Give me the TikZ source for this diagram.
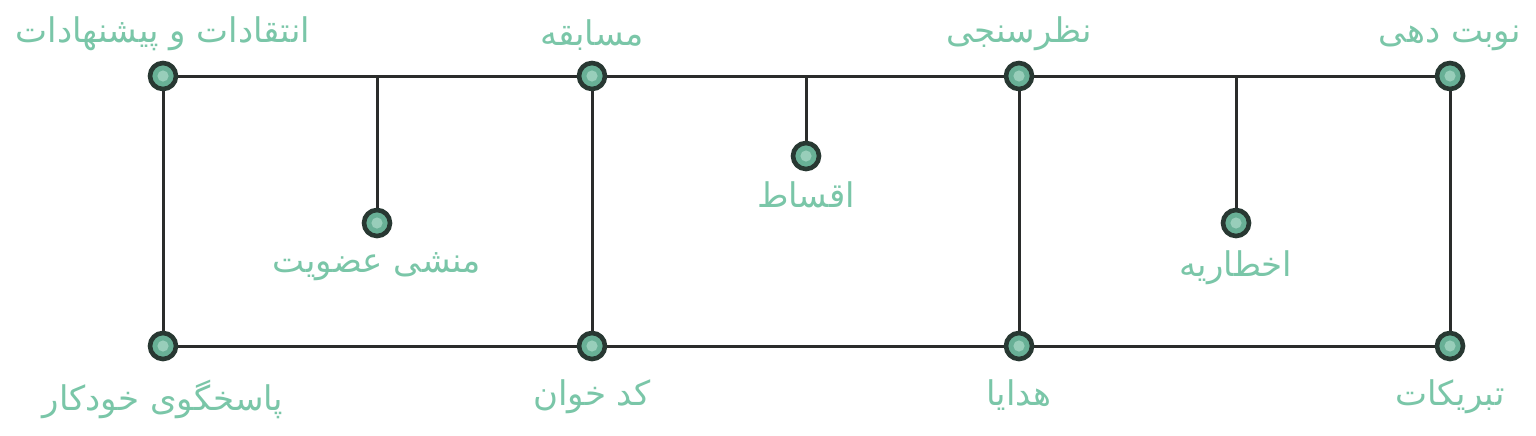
\documentclass[tikz,border=0pt]{standalone}
\usepackage{fontspec}
\usepackage{tikz}
\usetikzlibrary{positioning}
\TeXXeTstate=1
\newfontfamily\arabicfont[Script=Arabic]{DejaVu Sans}
\definecolor{linedark}{RGB}{42,44,43}
\definecolor{ringdark}{RGB}{40,56,50}
\definecolor{dotgreen}{RGB}{104,176,150}
\definecolor{dotlight}{RGB}{152,206,186}
\definecolor{labelgreen}{RGB}{122,198,168}
\tikzset{
    wire/.style={linedark,line width=1.5pt},
    dot/.style={circle,draw=ringdark,line width=2.3pt,fill=dotgreen,minimum size=13pt,inner sep=0pt,
        path picture={\fill[dotlight] (path picture bounding box.center) circle (2.8pt);}},
    lbl/.style={labelgreen,font=\arabicfont\fontsize{17}{19}\selectfont,inner sep=0pt},
}

\begin{document}
\begin{tikzpicture}[x=0.5pt,y=-0.5pt]
    \useasboundingbox (0,0) rectangle (1536,435);
    % main grid
    \node[dot] (t1) at (163,76) {};
    \node[dot] (t2) at (592,76) {};
    \node[dot] (t3) at (1019,76) {};
    \node[dot] (t4) at (1450,76) {};
    \node[dot] (b1) at (163,346) {};
    \node[dot] (b2) at (592,346) {};
    \node[dot] (b3) at (1019,346) {};
    \node[dot] (b4) at (1450,346) {};
    % side branches
    \coordinate (s1) at (377,76);
    \coordinate (s2) at (806,76);
    \coordinate (s3) at (1236,76);
    \node[dot] (m1) at (377,223) {};
    \node[dot] (m2) at (806,156) {};
    \node[dot] (m3) at (1236,223) {};

    \draw[wire] (t1) -- (t2);
    \draw[wire] (t2) -- (t3);
    \draw[wire] (t3) -- (t4);
    \draw[wire] (b1) -- (b2);
    \draw[wire] (b2) -- (b3);
    \draw[wire] (b3) -- (b4);
    \foreach \i in {1,...,4}
        \draw[wire] (t\i) -- (b\i);
    \foreach \i in {1,2,3}
        \draw[wire] (s\i) -- (m\i);

    \node[lbl, above=5pt of t1] (lt1) {\beginR انتقادات و پیشنهادات\endR};
    \node[lbl, above=5pt of t2] (lt2) {\beginR مسابقه\endR};
    \node[lbl, above=5pt of t3] (lt3) {\beginR نظرسنجی\endR};
    \node[lbl, above=5pt of t4] (lt4) {\beginR نوبت دهی\endR};
    \node[lbl, below=9pt of b1] (lb1) {\beginR پاسخگوی خودکار\endR};
    \node[lbl, below=9pt of b2] (lb2) {\beginR کد خوان\endR};
    \node[lbl, below=9pt of b3] (lb3) {\beginR هدایا\endR};
    \node[lbl, below=9pt of b4] (lb4) {\beginR تبریکات\endR};
    \node[lbl, below=7pt of m1] (lm1) {\beginR منشی عضویت\endR};
    \node[lbl, below=5pt of m2] (lm2) {\beginR اقساط\endR};
    \node[lbl, below=6pt of m3] (lm3) {\beginR اخطاریه\endR};
\end{tikzpicture}
\end{document}
